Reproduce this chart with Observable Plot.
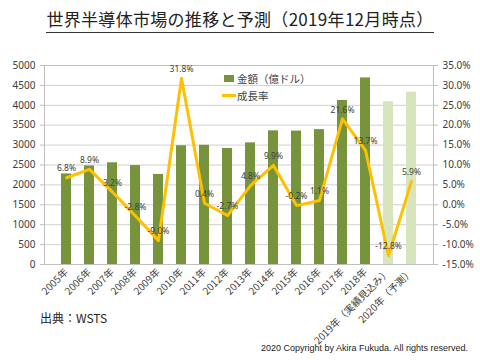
<!DOCTYPE html>
<html><head><meta charset="utf-8">
<script src="https://cdn.jsdelivr.net/npm/d3@7"></script>
<script src="https://cdn.jsdelivr.net/npm/@observablehq/plot@0.6"></script>
<style>
body{margin:0;background:#fff;}
#wrap{position:relative;width:480px;height:360px;font-family:"Noto Sans CJK JP","Noto Sans",sans-serif;color:#222;}
#title{position:absolute;left:0;width:480px;top:8px;text-align:center;font-size:17px;line-height:21px;letter-spacing:0.3px;}
#title span{border-bottom:1.5px solid #333;padding-bottom:1px;}
#chart{position:absolute;left:0;top:0;}
#legend{position:absolute;left:222px;top:70px;font-size:10.5px;color:#404040;line-height:17px;}
#legend div{display:flex;align-items:center;}
.sw{display:inline-block;width:10px;height:7px;background:#77933c;margin:0 3px 0 2px;}
.ln{display:inline-block;width:14px;height:3px;background:#ffc000;margin-right:1px;}
#source{position:absolute;left:40px;top:309px;font-size:12px;}
#copy{position:absolute;right:12px;top:343px;font-size:9px;font-family:"Liberation Sans Narrow","Liberation Sans",sans-serif;color:#222;}
</style></head>
<body><div id="wrap">
<div id="chart"></div>
<div id="title"><span>世界半導体市場の推移と予測（2019年12月時点）</span></div>
<div id="legend"><div><span class="sw"></span>金額（億ドル）</div><div><span class="ln"></span>成長率</div></div>
<div id="source">出典：WSTS</div>
<div id="copy">2020 Copyright by Akira Fukuda. All rights reserved.</div>
</div>
<script>
const years = ["2005年","2006年","2007年","2008年","2009年","2010年","2011年","2012年","2013年","2014年","2015年","2016年","2017年","2018年","2019年（実績見込み）","2020年（予測）"];
const amounts = [2275,2477,2556,2486,2263,2983,2995,2916,3056,3358,3352,3389,4122,4688,4090,4330];
const growth = [6.8,8.9,3.2,-2.8,-9.0,31.8,0.4,-2.7,4.8,9.9,-0.2,1.1,21.6,13.7,-12.8,5.9];
const leftTicks = [0,500,1000,1500,2000,2500,3000,3500,4000,4500,5000];
const rightTicks = [-15,-10,-5,0,5,10,15,20,25,30,35];

const g2y = g => (g + 15) / 50 * 5000;
const y2g = v => v / 100 - 15;
const data = years.map((y, i) => ({year: y, amount: amounts[i], growth: growth[i], est: y.includes("（")}));

const plot = Plot.plot({
  width: 480, height: 360,
  marginTop: 65, marginBottom: 96, marginLeft: 44, marginRight: 47,
  style: {fontFamily: "'Noto Sans CJK JP','Noto Sans',sans-serif", fontSize: "10px", color: "#404040", background: "transparent"},
  x: {domain: years, padding: 0.58, axis: null},
  y: {domain: [0, 5000], axis: null},
  marks: [
    Plot.ruleY(leftTicks, {stroke: "#d0d0d0"}),
    Plot.frame({stroke: "#bfbfbf"}),
    Plot.barY(data, {x: "year", y: "amount", fill: d => d.est ? "#d7e4bd" : "#77933c"}),
    Plot.line(data, {x: "year", y: d => g2y(d.growth), stroke: "#ffc000", strokeWidth: 3}),
    Plot.text(data, {x: "year", y: d => g2y(d.growth), text: d => d.growth.toFixed(1) + "%", dy: -9, fontSize: 8.5, fill: "#404040", fontFamily: "'Noto Sans',sans-serif"}),
    Plot.axisY({ticks: leftTicks, tickSize: 4, tickFormat: d => String(d), fontSize: 10, stroke: "#bfbfbf", label: null, fontFamily: "'Noto Sans',sans-serif"}),
    Plot.axisY({anchor: "right", ticks: rightTicks.map(g2y), tickSize: 4, tickFormat: d => y2g(d).toFixed(1) + "%", fontSize: 10, stroke: "#bfbfbf", label: null, fontFamily: "'Noto Sans',sans-serif"}),
    Plot.axisX({tickRotate: -45, tickSize: 0, tickPadding: 6, fontSize: 10, label: null})
  ]
});
document.getElementById("chart").appendChild(plot);
</script>
</body></html>
